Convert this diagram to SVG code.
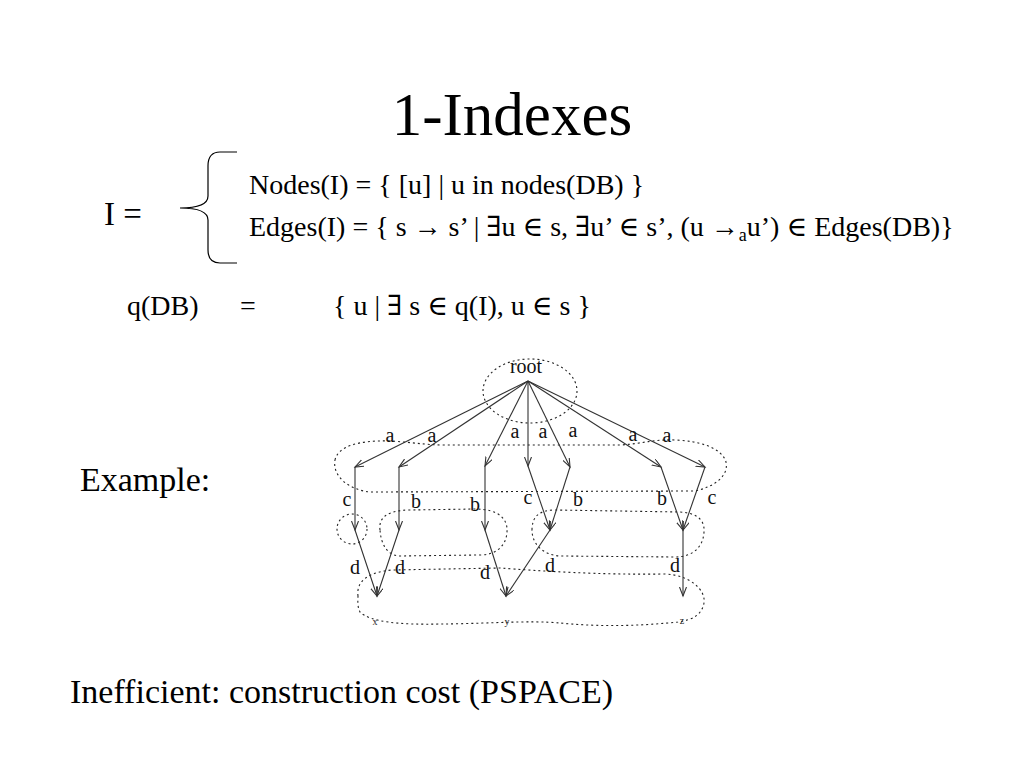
<svg xmlns="http://www.w3.org/2000/svg" width="1024" height="768" viewBox="0 0 1024 768">
<style>
.t{font-family:"Liberation Serif","DejaVu Serif",serif;fill:#000}
.lbl{font-family:"Liberation Serif","DejaVu Serif",serif;font-size:20px;fill:#111;text-anchor:middle}
.leaf{font-family:"Liberation Serif","DejaVu Serif",serif;font-size:10px;fill:#222;text-anchor:middle}
.blob{fill:none;stroke:#222;stroke-width:1.1;stroke-dasharray:2 3}
.edge{fill:none;stroke:#333;stroke-width:1.1;marker-end:url(#arr)}
</style>
<defs>
<marker id="arr" markerUnits="userSpaceOnUse" markerWidth="12" markerHeight="10" refX="9" refY="3.5" orient="auto">
<path d="M0,0 L9,3.5 L0,7" fill="none" stroke="#333" stroke-width="1.1"/>
</marker>
</defs>
<rect width="1024" height="768" fill="#fff"/>
<text class="t" x="512" y="135" font-size="61" text-anchor="middle">1-Indexes</text>
<text class="t" x="104" y="225" font-size="33">I =</text>
<path d="M237,152 L220,152 C212,152 208,157 208,166 L208,196 C208,204 198,208 180,208 C198,208 208,212 208,220 L208,250 C208,259 212,263 220,263 L237,263" fill="none" stroke="#000" stroke-width="1.2"/>
<text class="t" x="249" y="194" font-size="28">Nodes(I) = { [u] | u in nodes(DB) }</text>
<text class="t" x="249" y="236" font-size="28">Edges(I) = { s → s’ | ∃u ∈ s, ∃u’ ∈ s’, (u →<tspan font-size="18" dy="5">a</tspan><tspan dy="-5">u’) ∈ Edges(DB)}</tspan></text>
<text class="t" x="127" y="315" font-size="28">q(DB)</text>
<text class="t" x="240" y="315" font-size="28">=</text>
<text class="t" x="333" y="315" font-size="28">{ u | ∃ s ∈ q(I), u ∈ s  }</text>
<text class="t" x="80" y="491" font-size="34">Example:</text>
<text class="t" x="70" y="703" font-size="34">Inefficient: construction cost (PSPACE)</text>

<g id="node-root">
<ellipse class="blob" cx="530" cy="391" rx="47" ry="32"/>
<text class="lbl" x="526" y="373">root</text>
</g>
<g id="node-level1">
<path class="blob" d="M335,460 C338,446 360,440 390,441 C410,442 425,445 445,445 L620,445 C640,444 655,439 675,440 C700,441 722,448 726,462 C729,476 714,487 695,491 L370,492 C350,490 332,477 335,460 Z"/>
</g>
<g id="node-c">
<ellipse class="blob" cx="352" cy="529" rx="15" ry="15"/>
</g>
<g id="node-b">
<path class="blob" d="M380,530 C378,515 392,510 410,510 L475,509 C500,509 508,520 507,532 C506,547 495,555 480,555 L400,556 C388,556 381,545 380,530 Z"/>
</g>
<g id="node-bc">
<path class="blob" d="M532,530 C532,516 540,510 555,510 L680,512 C697,513 705,520 704,532 C703,548 692,557 675,557 L560,556 C543,555 532,544 532,530 Z"/>
</g>
<g id="node-leaves">
<path class="blob" d="M358,596 C356,580 370,572 392,570 L500,568 C540,571 600,575 665,574 C690,575 706,590 704,603 C702,615 692,620 678,622 C640,626 600,627 560,623 C530,620 480,624 440,624 C400,625 370,622 360,612 C357,606 358,600 358,596 Z"/>
<text class="leaf" x="375" y="625">x</text>
<text class="leaf" x="507" y="625">y</text>
<text class="leaf" x="682" y="624">z</text>
</g>

<g id="connectors">
<line class="edge" x1="528" y1="381" x2="355" y2="467"/>
<line class="edge" x1="528" y1="381" x2="399" y2="467"/>
<line class="edge" x1="528" y1="381" x2="485" y2="466"/>
<line class="edge" x1="528" y1="381" x2="528" y2="466"/>
<line class="edge" x1="528" y1="381" x2="570" y2="467"/>
<line class="edge" x1="528" y1="381" x2="661" y2="467"/>
<line class="edge" x1="528" y1="381" x2="705" y2="467"/>
<line class="edge" x1="355" y1="467" x2="355" y2="530"/>
<line class="edge" x1="399" y1="467" x2="399" y2="530"/>
<line class="edge" x1="485" y1="466" x2="485" y2="530"/>
<line class="edge" x1="528" y1="466" x2="550" y2="530"/>
<line class="edge" x1="570" y1="467" x2="550" y2="530"/>
<line class="edge" x1="661" y1="467" x2="683" y2="530"/>
<line class="edge" x1="705" y1="467" x2="683" y2="530"/>
<line class="edge" x1="355" y1="530" x2="377" y2="596"/>
<line class="edge" x1="399" y1="530" x2="377" y2="596"/>
<line class="edge" x1="485" y1="530" x2="506" y2="596"/>
<line class="edge" x1="550" y1="530" x2="506" y2="596"/>
<line class="edge" x1="683" y1="530" x2="683" y2="596"/>
<text class="lbl" x="390" y="442">a</text>
<text class="lbl" x="432" y="442">a</text>
<text class="lbl" x="515" y="438">a</text>
<text class="lbl" x="543" y="438">a</text>
<text class="lbl" x="573" y="437">a</text>
<text class="lbl" x="633" y="441">a</text>
<text class="lbl" x="667" y="442">a</text>
<text class="lbl" x="347" y="506">c</text>
<text class="lbl" x="416" y="508">b</text>
<text class="lbl" x="475" y="511">b</text>
<text class="lbl" x="528" y="504">c</text>
<text class="lbl" x="578" y="506">b</text>
<text class="lbl" x="662" y="505">b</text>
<text class="lbl" x="712" y="504">c</text>
<text class="lbl" x="355" y="574">d</text>
<text class="lbl" x="400" y="574">d</text>
<text class="lbl" x="485" y="579">d</text>
<text class="lbl" x="550" y="572">d</text>
<text class="lbl" x="675" y="572">d</text>
</g>
</svg>
